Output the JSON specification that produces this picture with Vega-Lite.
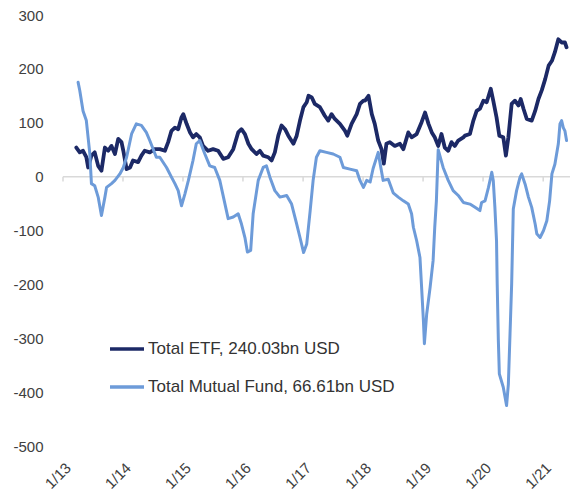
{
  "$schema": "https://vega.github.io/schema/vega-lite/v6.json",
  "width": 507,
  "height": 431,
  "autosize": {"type": "none"},
  "padding": {"left": 63, "top": 15, "right": 3, "bottom": 56},
  "background": "white",
  "config": {
    "view": {"stroke": null},
    "font": "Liberation Sans",
    "axis": {"grid": false, "domain": false, "ticks": false, "tickSize": 0, "title": null}
  },
  "datasets": {
    "ticks": [
      {"d": "2013-01-01"}, {"d": "2014-01-01"}, {"d": "2015-01-01"}, {"d": "2016-01-01"}, {"d": "2017-01-01"},
      {"d": "2018-01-01"}, {"d": "2019-01-01"}, {"d": "2020-01-01"}, {"d": "2021-01-01"}
    ],
    "etf": [
      {"d": "2013-03-23", "v": 54}, {"d": "2013-04-13", "v": 45}, {"d": "2013-05-03", "v": 48}, {"d": "2013-05-23", "v": 36},
      {"d": "2013-06-03", "v": 17}, {"d": "2013-06-23", "v": 39}, {"d": "2013-07-13", "v": 45}, {"d": "2013-08-03", "v": 20},
      {"d": "2013-08-23", "v": 11}, {"d": "2013-09-13", "v": 54}, {"d": "2013-10-03", "v": 48}, {"d": "2013-10-23", "v": 57},
      {"d": "2013-11-13", "v": 42}, {"d": "2013-12-03", "v": 70}, {"d": "2013-12-23", "v": 64}, {"d": "2014-01-03", "v": 48},
      {"d": "2014-01-23", "v": 14}, {"d": "2014-02-13", "v": 17}, {"d": "2014-03-03", "v": 30}, {"d": "2014-04-03", "v": 27},
      {"d": "2014-04-23", "v": 39}, {"d": "2014-05-13", "v": 48}, {"d": "2014-06-13", "v": 45}, {"d": "2014-07-13", "v": 51},
      {"d": "2014-08-13", "v": 51}, {"d": "2014-09-13", "v": 48}, {"d": "2014-10-03", "v": 64}, {"d": "2014-10-23", "v": 85},
      {"d": "2014-11-13", "v": 91}, {"d": "2014-12-03", "v": 88}, {"d": "2014-12-23", "v": 110}, {"d": "2015-01-03", "v": 116},
      {"d": "2015-01-23", "v": 98}, {"d": "2015-02-13", "v": 82}, {"d": "2015-03-03", "v": 73}, {"d": "2015-03-23", "v": 79},
      {"d": "2015-04-13", "v": 73}, {"d": "2015-05-03", "v": 57}, {"d": "2015-06-03", "v": 48}, {"d": "2015-07-03", "v": 51},
      {"d": "2015-08-03", "v": 48}, {"d": "2015-09-03", "v": 33}, {"d": "2015-10-03", "v": 36}, {"d": "2015-11-03", "v": 51},
      {"d": "2015-12-03", "v": 82}, {"d": "2015-12-23", "v": 88}, {"d": "2016-01-13", "v": 79}, {"d": "2016-02-03", "v": 61},
      {"d": "2016-02-23", "v": 51}, {"d": "2016-03-23", "v": 42}, {"d": "2016-04-13", "v": 48}, {"d": "2016-05-03", "v": 39},
      {"d": "2016-06-03", "v": 36}, {"d": "2016-06-23", "v": 30}, {"d": "2016-07-13", "v": 45}, {"d": "2016-08-03", "v": 76},
      {"d": "2016-08-23", "v": 95}, {"d": "2016-09-13", "v": 88}, {"d": "2016-10-03", "v": 76}, {"d": "2016-11-03", "v": 61},
      {"d": "2016-11-23", "v": 76}, {"d": "2016-12-13", "v": 104}, {"d": "2017-01-03", "v": 129}, {"d": "2017-01-23", "v": 138},
      {"d": "2017-02-03", "v": 150}, {"d": "2017-02-23", "v": 147}, {"d": "2017-03-13", "v": 135}, {"d": "2017-04-13", "v": 129},
      {"d": "2017-05-13", "v": 113}, {"d": "2017-06-03", "v": 104}, {"d": "2017-06-23", "v": 116}, {"d": "2017-07-13", "v": 107},
      {"d": "2017-08-13", "v": 98}, {"d": "2017-09-13", "v": 85}, {"d": "2017-09-27", "v": 76}, {"d": "2017-10-23", "v": 98},
      {"d": "2017-11-23", "v": 116}, {"d": "2017-12-13", "v": 135}, {"d": "2018-01-03", "v": 141}, {"d": "2018-01-13", "v": 141},
      {"d": "2018-02-03", "v": 150}, {"d": "2018-02-23", "v": 116}, {"d": "2018-03-13", "v": 98}, {"d": "2018-04-03", "v": 67},
      {"d": "2018-04-23", "v": 51}, {"d": "2018-05-07", "v": 24}, {"d": "2018-05-23", "v": 61}, {"d": "2018-06-13", "v": 64},
      {"d": "2018-07-13", "v": 57}, {"d": "2018-08-13", "v": 61}, {"d": "2018-09-03", "v": 51}, {"d": "2018-10-03", "v": 82},
      {"d": "2018-10-23", "v": 73}, {"d": "2018-11-23", "v": 79}, {"d": "2018-12-23", "v": 101}, {"d": "2019-01-13", "v": 119},
      {"d": "2019-02-03", "v": 98}, {"d": "2019-02-23", "v": 82}, {"d": "2019-03-13", "v": 73}, {"d": "2019-04-03", "v": 57},
      {"d": "2019-04-23", "v": 79}, {"d": "2019-05-13", "v": 54}, {"d": "2019-06-03", "v": 48}, {"d": "2019-06-23", "v": 64},
      {"d": "2019-07-13", "v": 57}, {"d": "2019-08-03", "v": 67}, {"d": "2019-09-03", "v": 73}, {"d": "2019-09-13", "v": 76},
      {"d": "2019-10-13", "v": 79}, {"d": "2019-11-03", "v": 104}, {"d": "2019-11-23", "v": 122}, {"d": "2019-12-13", "v": 126},
      {"d": "2020-01-03", "v": 141}, {"d": "2020-01-23", "v": 138}, {"d": "2020-02-17", "v": 163}, {"d": "2020-03-03", "v": 141},
      {"d": "2020-03-23", "v": 110}, {"d": "2020-04-09", "v": 76}, {"d": "2020-05-03", "v": 73}, {"d": "2020-05-19", "v": 39},
      {"d": "2020-06-03", "v": 73}, {"d": "2020-06-23", "v": 135}, {"d": "2020-07-13", "v": 141}, {"d": "2020-08-03", "v": 132},
      {"d": "2020-08-17", "v": 144}, {"d": "2020-09-03", "v": 126}, {"d": "2020-09-23", "v": 107}, {"d": "2020-10-23", "v": 104},
      {"d": "2020-11-13", "v": 122}, {"d": "2020-12-03", "v": 144}, {"d": "2020-12-23", "v": 160}, {"d": "2021-01-13", "v": 181},
      {"d": "2021-02-03", "v": 206}, {"d": "2021-02-23", "v": 215}, {"d": "2021-03-13", "v": 231}, {"d": "2021-04-03", "v": 255},
      {"d": "2021-04-23", "v": 249}, {"d": "2021-05-13", "v": 249}, {"d": "2021-05-23", "v": 240}
    ],
    "mf": [
      {"d": "2013-04-03", "v": 175}, {"d": "2013-04-13", "v": 160}, {"d": "2013-05-03", "v": 122}, {"d": "2013-05-23", "v": 104},
      {"d": "2013-06-13", "v": 43}, {"d": "2013-06-23", "v": -13}, {"d": "2013-07-13", "v": -17}, {"d": "2013-08-03", "v": -38},
      {"d": "2013-08-23", "v": -72}, {"d": "2013-09-13", "v": -38}, {"d": "2013-09-23", "v": -20}, {"d": "2013-10-23", "v": -13},
      {"d": "2013-11-13", "v": -7}, {"d": "2013-12-13", "v": 5}, {"d": "2014-01-03", "v": 17}, {"d": "2014-01-23", "v": 36},
      {"d": "2014-02-23", "v": 80}, {"d": "2014-03-23", "v": 98}, {"d": "2014-04-23", "v": 95}, {"d": "2014-05-23", "v": 82},
      {"d": "2014-06-13", "v": 67}, {"d": "2014-07-23", "v": 36}, {"d": "2014-08-13", "v": 36}, {"d": "2014-09-23", "v": 17},
      {"d": "2014-10-23", "v": -1}, {"d": "2014-11-13", "v": -13}, {"d": "2014-12-03", "v": -26}, {"d": "2014-12-23", "v": -54},
      {"d": "2015-01-13", "v": -32}, {"d": "2015-02-03", "v": -7}, {"d": "2015-03-03", "v": 30}, {"d": "2015-03-23", "v": 61},
      {"d": "2015-04-13", "v": 67}, {"d": "2015-05-13", "v": 43}, {"d": "2015-06-13", "v": 20}, {"d": "2015-07-13", "v": 17},
      {"d": "2015-08-13", "v": -7}, {"d": "2015-09-13", "v": -50}, {"d": "2015-10-03", "v": -78}, {"d": "2015-11-03", "v": -75},
      {"d": "2015-12-03", "v": -69}, {"d": "2015-12-23", "v": -88}, {"d": "2016-01-13", "v": -113}, {"d": "2016-01-28", "v": -140},
      {"d": "2016-02-17", "v": -137}, {"d": "2016-03-03", "v": -69}, {"d": "2016-04-03", "v": -7}, {"d": "2016-05-03", "v": 17},
      {"d": "2016-05-23", "v": 20}, {"d": "2016-06-13", "v": -1}, {"d": "2016-07-13", "v": -26}, {"d": "2016-08-13", "v": -38},
      {"d": "2016-09-23", "v": -35}, {"d": "2016-10-23", "v": -51}, {"d": "2016-11-23", "v": -88}, {"d": "2016-12-13", "v": -113},
      {"d": "2017-01-04", "v": -141}, {"d": "2017-01-23", "v": -125}, {"d": "2017-02-13", "v": -63}, {"d": "2017-03-03", "v": -7},
      {"d": "2017-03-23", "v": 36}, {"d": "2017-04-13", "v": 48}, {"d": "2017-05-23", "v": 45}, {"d": "2017-07-03", "v": 42},
      {"d": "2017-08-13", "v": 36}, {"d": "2017-09-03", "v": 17}, {"d": "2017-10-13", "v": 14}, {"d": "2017-11-23", "v": 11},
      {"d": "2017-12-13", "v": -7}, {"d": "2018-01-03", "v": -20}, {"d": "2018-01-23", "v": -7}, {"d": "2018-02-13", "v": -10},
      {"d": "2018-03-03", "v": 15}, {"d": "2018-04-03", "v": 45}, {"d": "2018-04-17", "v": 20}, {"d": "2018-05-03", "v": -7},
      {"d": "2018-06-03", "v": -5}, {"d": "2018-07-03", "v": -30}, {"d": "2018-08-03", "v": -38}, {"d": "2018-09-03", "v": -45},
      {"d": "2018-10-03", "v": -51}, {"d": "2018-10-23", "v": -69}, {"d": "2018-11-03", "v": -94}, {"d": "2018-11-23", "v": -119},
      {"d": "2018-12-13", "v": -150}, {"d": "2018-12-23", "v": -205}, {"d": "2019-01-03", "v": -267}, {"d": "2019-01-09", "v": -310},
      {"d": "2019-01-23", "v": -255}, {"d": "2019-02-13", "v": -205}, {"d": "2019-03-03", "v": -156}, {"d": "2019-03-13", "v": -94},
      {"d": "2019-03-23", "v": -45}, {"d": "2019-04-03", "v": 50}, {"d": "2019-05-03", "v": 17}, {"d": "2019-06-03", "v": -7},
      {"d": "2019-07-03", "v": -26}, {"d": "2019-08-03", "v": -35}, {"d": "2019-09-03", "v": -48}, {"d": "2019-10-13", "v": -51},
      {"d": "2019-11-13", "v": -57}, {"d": "2019-12-13", "v": -63}, {"d": "2019-12-23", "v": -48}, {"d": "2020-01-13", "v": -45},
      {"d": "2020-02-03", "v": -20}, {"d": "2020-02-23", "v": 8}, {"d": "2020-03-03", "v": -7}, {"d": "2020-03-13", "v": -57},
      {"d": "2020-03-23", "v": -120}, {"d": "2020-03-27", "v": -199}, {"d": "2020-04-03", "v": -304}, {"d": "2020-04-09", "v": -366},
      {"d": "2020-05-03", "v": -391}, {"d": "2020-05-23", "v": -425}, {"d": "2020-06-03", "v": -385}, {"d": "2020-06-13", "v": -292},
      {"d": "2020-06-23", "v": -199}, {"d": "2020-07-03", "v": -60}, {"d": "2020-07-23", "v": -26}, {"d": "2020-08-13", "v": -1},
      {"d": "2020-08-23", "v": 5}, {"d": "2020-09-13", "v": -14}, {"d": "2020-10-03", "v": -38}, {"d": "2020-10-23", "v": -57},
      {"d": "2020-11-13", "v": -88}, {"d": "2020-11-23", "v": -106}, {"d": "2020-12-13", "v": -113}, {"d": "2021-01-03", "v": -100},
      {"d": "2021-01-23", "v": -82}, {"d": "2021-02-09", "v": -45}, {"d": "2021-02-23", "v": 5}, {"d": "2021-03-13", "v": 23},
      {"d": "2021-04-03", "v": 61}, {"d": "2021-04-13", "v": 98}, {"d": "2021-04-23", "v": 104}, {"d": "2021-05-03", "v": 91},
      {"d": "2021-05-13", "v": 85}, {"d": "2021-05-23", "v": 67}
    ]
  },
  "layer": [
    {
      "data": {"values": [{}]},
      "mark": {"type": "rule", "color": "#d9d9d9", "strokeWidth": 1.5},
      "encoding": {
        "y": {
          "datum": 0, "type": "quantitative",
          "scale": {"domain": [-500, 300], "nice": false, "zero": false},
          "axis": {
            "values": [-500, -400, -300, -200, -100, 0, 100, 200, 300],
            "labelExpr": "'' + datum.value", "labelFontSize": 15, "labelColor": "#404040", "labelPadding": 20
          }
        }
      }
    },
    {
      "data": {"name": "ticks"},
      "mark": {"type": "rule", "color": "#d9d9d9", "strokeWidth": 1.5},
      "encoding": {
        "x": {
          "field": "d", "type": "temporal",
          "scale": {"domain": ["2013-01-01", "2021-06-13"], "nice": false},
          "axis": {
            "orient": "bottom", "tickCount": {"interval": "year", "step": 1}, "format": "%-m/%y",
            "labelAngle": -45, "labelFontSize": 15, "labelColor": "#404040", "labelPadding": 14,
            "labelFlush": false, "labelOverlap": false, "labelBound": false
          }
        },
        "y": {"datum": 0, "type": "quantitative"},
        "y2": {"datum": -9}
      }
    },
    {
      "data": {"name": "etf"},
      "mark": {"type": "line", "strokeWidth": 3.8, "strokeJoin": "round", "strokeCap": "round"},
      "encoding": {
        "x": {"field": "d", "type": "temporal"},
        "y": {"field": "v", "type": "quantitative"},
        "color": {
          "datum": "Total ETF, 240.03bn USD",
          "type": "nominal",
          "scale": {"domain": ["Total ETF, 240.03bn USD", "Total Mutual Fund, 66.61bn USD"], "range": ["#1c2966", "#6d9bd9"]},
          "legend": {
            "orient": "none", "legendX": 45, "legendY": 315, "title": null,
            "symbolType": "stroke", "symbolSize": 1156, "symbolStrokeWidth": 3.5,
            "labelFontSize": 17, "labelColor": "#333333", "labelOffset": 2, "rowPadding": 11, "padding": 0, "labelLimit": 400
          }
        }
      }
    },
    {
      "data": {"name": "mf"},
      "mark": {"type": "line", "strokeWidth": 3, "strokeJoin": "round", "strokeCap": "round"},
      "encoding": {
        "x": {"field": "d", "type": "temporal"},
        "y": {"field": "v", "type": "quantitative"},
        "color": {"datum": "Total Mutual Fund, 66.61bn USD", "type": "nominal"}
      }
    }
  ]
}
